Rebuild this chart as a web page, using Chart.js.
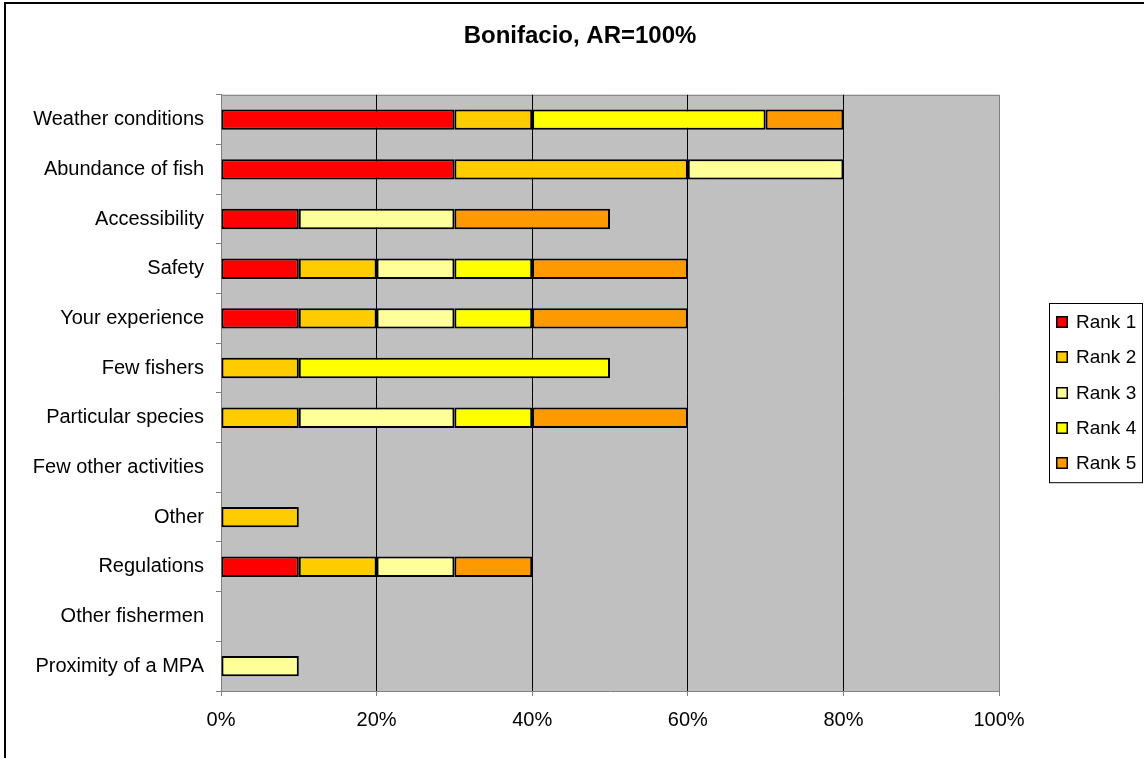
<!DOCTYPE html>
<html>
<head>
<meta charset="utf-8">
<title>Bonifacio, AR=100%</title>
<script src="https://cdn.jsdelivr.net/npm/chart.js@4.4.0/dist/chart.umd.min.js"></script>
<style>
  html, body { margin: 0; padding: 0; background: #fff; }
  canvas { display: block; }
</style>
</head>
<body>
<canvas id="chart" width="1144" height="758"></canvas>
<script>
// values, in percent of respondents
const categories = ['Weather conditions', 'Abundance of fish', 'Accessibility', 'Safety',
  'Your experience', 'Few fishers', 'Particular species', 'Few other activities',
  'Other', 'Regulations', 'Other fishermen', 'Proximity of a MPA'];
const seriesNames = ['Rank 1', 'Rank 2', 'Rank 3', 'Rank 4', 'Rank 5'];
const rank1 = [30, 30, 10, 10, 10, 0, 0, 0, 0, 10, 0, 0];
const rank2 = [10, 30, 0, 10, 10, 10, 10, 0, 10, 10, 0, 0];
const rank3 = [0, 20, 20, 10, 10, 0, 20, 0, 0, 10, 0, 10];
const rank4 = [30, 0, 0, 10, 10, 40, 10, 0, 0, 0, 0, 0];
const rank5 = [10, 0, 20, 20, 20, 0, 20, 0, 0, 10, 0, 0];
const colors = ['#FF0000', '#FFCC00', '#FFFF99', '#FFFF00', '#FF9900'];
const xTicks = [0, 20, 40, 60, 80, 100];

const FONT = "'Liberation Sans', Arial, sans-serif";

const series = [rank1, rank2, rank3, rank4, rank5];
const datasets = series.map((vals, i) => ({
  label: seriesNames[i],
  data: vals,
  backgroundColor: colors[i],
  borderColor: '#000000',
  borderWidth: 2,
  borderSkipped: false,
  barPercentage: 0.41,
  categoryPercentage: 1.0
}));

// grey plot area, frame around the whole picture, and the boxed legend on the right
const excelLook = {
  id: 'excelLook',
  beforeDraw(chart) {
    const c = chart.ctx, a = chart.chartArea;
    c.save();
    c.fillStyle = '#000';
    c.fillRect(4, 2, chart.width - 4, 2);
    c.fillRect(4, 2, 2, chart.height - 2);
    c.fillStyle = '#C0C0C0';
    c.fillRect(a.left, a.top, a.right - a.left, a.bottom - a.top);
    c.strokeStyle = '#808080';
    c.lineWidth = 1;
    c.beginPath();
    c.moveTo(a.left, a.top + 0.5);
    c.lineTo(a.right, a.top + 0.5);
    c.stroke();
    c.restore();
  },
  afterDraw(chart) {
    const c = chart.ctx, a = chart.chartArea;
    const sets = chart.data.datasets;
    const step = 35.3;
    const boxW = 93, boxH = step * (sets.length - 1) + 38;
    const left = a.right + 50;
    const top = Math.round((a.top + a.bottom) / 2 - boxH / 2);
    c.save();
    c.strokeStyle = '#000';
    c.lineWidth = 1;
    c.strokeRect(left + 0.5, top + 0.5, boxW, boxH);
    c.font = '19px ' + FONT;
    c.textBaseline = 'middle';
    c.textAlign = 'left';
    sets.forEach((ds, i) => {
      const y = Math.round(top + 19 + i * step);
      c.fillStyle = ds.backgroundColor;
      c.fillRect(left + 7, y - 6, 12, 12);
      c.lineWidth = 1.5;
      c.strokeRect(left + 7.75, y - 5.25, 10.5, 10.5);
      c.fillStyle = '#000';
      c.fillText(ds.label, left + 27, y + 1);
    });
    c.restore();
  }
};

new Chart(document.getElementById('chart'), {
  type: 'bar',
  data: { labels: categories, datasets: datasets },
  options: {
    indexAxis: 'y',
    responsive: false,
    animation: false,
    devicePixelRatio: 1,
    layout: { padding: { left: 16, top: 0, right: 0, bottom: 0 } },
    plugins: {
      legend: { display: false },
      tooltip: { enabled: false },
      title: {
        display: true,
        text: 'Bonifacio, AR=100%',
        color: '#000',
        font: { family: FONT, size: 24, weight: 'bold' },
        padding: { top: 22, bottom: 44 }
      }
    },
    scales: {
      x: {
        stacked: true,
        min: 0,
        max: 100,
        afterBuildTicks: s => { s.ticks = xTicks.map(v => ({ value: v })); },
        afterFit: s => { s.height = 67; },
        ticks: {
          color: '#000',
          font: { family: FONT, size: 20 },
          padding: 12,
          callback: v => v + '%'
        },
        grid: {
          color: ctx => (ctx.tick && (ctx.tick.value === 0 || ctx.tick.value === 100) ? '#808080' : '#000'),
          tickColor: '#808080',
          tickLength: 5,
          lineWidth: 1
        },
        border: { color: '#808080', width: 1 }
      },
      y: {
        stacked: true,
        afterFit: s => { s.width = 205; },
        ticks: {
          color: '#000',
          font: { family: FONT, size: 20 },
          padding: 12
        },
        grid: {
          offset: true,
          drawOnChartArea: false,
          drawTicks: true,
          tickLength: 5,
          tickColor: '#808080'
        },
        border: { color: '#808080', width: 1 }
      },
      legendSpace: {
        type: 'category',
        position: 'right',
        display: true,
        afterFit: s => { s.width = 145; },
        ticks: { display: false },
        grid: { display: false },
        border: { display: false }
      }
    }
  },
  plugins: [excelLook]
});
</script>
</body>
</html>
